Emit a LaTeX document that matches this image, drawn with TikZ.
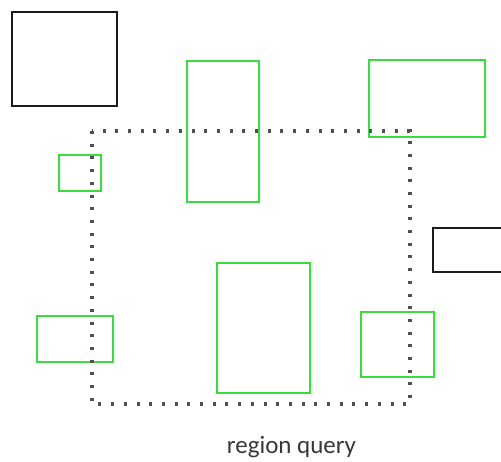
\documentclass[tikz,border=0pt]{standalone}
\usepackage{fontspec}
\setmainfont{Carlito}
\definecolor{boxgreen}{HTML}{3CDC3C}
\definecolor{boxblack}{HTML}{1A1A1A}
\definecolor{dotgray}{HTML}{505050}
\definecolor{textgray}{HTML}{383838}
\begin{document}
\begin{tikzpicture}[x=1pt,y=-1pt,
  greenbox/.style={draw=boxgreen,line width=2.4pt},
  blackbox/.style={draw=boxblack,line width=2.4pt},
  querybox/.style={draw=dotgray,line width=3.2pt,dash pattern=on 3pt off 9.7pt}]
\useasboundingbox (0,0) rectangle (501,461);
\draw[blackbox] (12,12) rectangle (117,106);
\draw[blackbox] (503,228) -- (433,228) -- (433,272) -- (503,272);
\draw[greenbox] (187,61) rectangle (259,202);
\draw[greenbox] (59,155) rectangle (101,191);
\draw[greenbox] (369,60) rectangle (485,137);
\draw[greenbox] (37,316) rectangle (113,362);
\draw[greenbox] (217,263) rectangle (310,393);
\draw[greenbox] (361,312) rectangle (434,377);
\draw[querybox] (92,131) rectangle (410,404);
\node[text=textgray,font=\fontsize{25}{30}\selectfont,anchor=base] (label) at (291.5,453.5) {region query};
\end{tikzpicture}
\end{document}
